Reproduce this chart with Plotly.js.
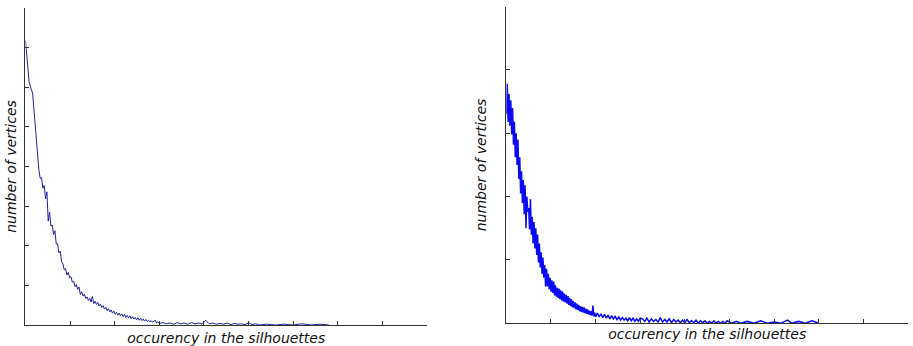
<!DOCTYPE html>
<html>
<head>
<meta charset="utf-8">
<script src="https://cdn.plot.ly/plotly-3.0.1.min.js"></script>
<style>html,body{margin:0;padding:0;background:#fff;}#chart{width:913px;height:346px;}</style>
</head>
<body>
<div id="chart"></div>
<script>
// Left panel: occurrence in the silhouettes (x) vs number of vertices (y)
const xLeft = [0,4,8,12,16,20,24,28,30,33,36,39,42,45,48,51,54,57,60,63,66,69,72,75,78,81,84,87,90,93,96,99,102,105,108,111,114,117,120,123,126,129,132,135,138,141,144,147,150,153,156,159,162,165,168,171,174,177,180,183,186,189,192,195,198,201,204,207,210,213,216,219,222,225,228,231,234,237,240,243,246,249,252,255,258,261,264,267,270,273,276,279,282,285,288,291,294,297,300,308,316,324,332,340,348,356,364,372,380,388,396,404,412,420,428,436,444,452,460,468,476,484,492,500,508,516,524,540,560,580,600,620,640,660,680];
const yLeft = [718,672,615,598,585,530,470,410,392,370,372,345,352,318,336,262,285,250,252,228,238,204,205,182,186,160,154,139,142,126,133,119,122,108,110,97,102,90,96,77,84,73,78,67,71,62,67,58,72,54,60,52,57,48,53,44,49,40,45,36,41,33,38,30,35,27,32,25,30,23,28,21,27,19,24,18,23,16,21,15,19,13,18,12,17,11,15,10,14,9,12,8,11,7,10,12,5,8,4,6,3,5,2,6,3,5,2,6,3,5,2,12,3,5,2,4,2,5,1,4,2,3,1,6,1,3,0,2,0,2,0,3,0,2,0];

// Right panel
const xRight = [0,2,4,6,8,10,12,14,16,18,20,22,24,26,28,30,32,34,36,38,40,42,44,46,48,50,52,54,56,58,60,62,64,66,68,70,72,74,76,78,80,82,84,86,88,90,92,94,96,98,100,102,104,106,108,110,112,114,116,118,120,122,124,126,128,130,132,134,136,138,140,142,144,146,148,150,152,154,156,158,160,162,164,166,168,170,172,174,176,178,180,182,184,186,188,190,192,194,196,198,200,204,208,212,216,220,224,228,232,236,240,244,248,252,256,260,264,268,272,276,280,284,288,292,296,300,305,310,315,320,325,330,335,340,345,350,355,360,365,370,375,380,385,390,395,400,405,410,415,420,425,430,435,440,445,450,455,460,465,470,475,480,485,490,495,505,515,525,540,555,570,585,600,615,630,640,655,670,685,700];
const yRight = [330,378,318,362,312,352,298,340,282,318,262,300,250,290,228,262,205,240,190,226,172,218,150,200,176,182,148,196,140,168,126,160,118,150,108,140,96,126,88,112,78,104,72,92,58,86,58,78,54,72,50,68,48,66,44,60,42,56,40,55,38,52,36,50,34,47,33,45,31,43,29,40,27,38,25,35,24,33,22,31,21,29,19,27,18,26,17,25,16,23,15,22,14,20,13,19,12,28,11,17,10,16,10,15,9,14,8,13,7,12,7,11,6,10,5,9,5,8,4,9,4,8,3,7,3,8,7,3,8,2,7,3,6,2,9,2,6,2,7,1,6,2,5,1,5,1,6,1,4,1,5,0,4,1,4,0,3,0,4,0,3,0,3,0,4,0,3,0,3,0,4,0,2,0,5,0,3,0,4,0];

const tickEvery = 100;
const leftYMax = 800, rightYMax = 500, xMax = 900;

const titleFont = {family: 'DejaVu Sans, Verdana, sans-serif', size: 14, color: '#111', style: 'italic'};

function xAx(domain, anchor, standoff) {
  return {
    domain: domain, anchor: anchor, range: [0, xMax], tick0: 0, dtick: tickEvery,
    showline: true, linecolor: '#333', linewidth: 1, ticks: 'inside', ticklen: 4, tickcolor: '#333',
    showticklabels: false, showgrid: false, zeroline: false, automargin: false, fixedrange: true,
    title: {text: 'occurency in the silhouettes', font: titleFont, standoff: standoff}
  };
}
function yAx(domain, anchor, maxV, standoff) {
  return {
    domain: domain, anchor: anchor, range: [0, maxV], tick0: 0, dtick: tickEvery,
    showline: true, linecolor: '#333', linewidth: 1, ticks: 'inside', ticklen: 4, tickcolor: '#333',
    showticklabels: false, showgrid: false, zeroline: false, automargin: false, fixedrange: true,
    title: {text: 'number of vertices', font: titleFont, standoff: standoff}
  };
}

const traces = [
  {x: xLeft, y: yLeft, type: 'scatter', mode: 'lines', line: {color: '#23239c', width: 1}, xaxis: 'x', yaxis: 'y', hoverinfo: 'none'},
  {x: xRight, y: yRight, type: 'scatter', mode: 'lines', line: {color: '#0a0af5', width: 1.5}, xaxis: 'x2', yaxis: 'y2', hoverinfo: 'none'}
];

const layout = {
  width: 913, height: 346,
  margin: {l: 0, r: 0, t: 0, b: 0},
  paper_bgcolor: '#fff', plot_bgcolor: '#fff',
  showlegend: false,
  xaxis: xAx([0.0279, 0.4677], 'y', 9),
  yaxis: yAx([0.0607, 0.9769], 'x', leftYMax, 4),
  xaxis2: xAx([0.5546, 0.9945], 'y2', 5),
  yaxis2: yAx([0.0656, 0.981], 'x2', rightYMax, 15)
};

Plotly.newPlot('chart', traces, layout, {displayModeBar: false, staticPlot: true});
</script>
</body>
</html>
